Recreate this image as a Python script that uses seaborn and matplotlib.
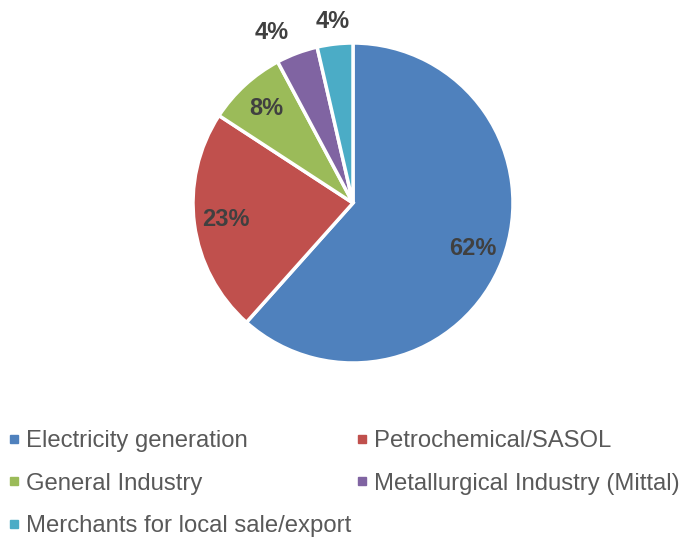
import numpy as np
import seaborn as sns
import matplotlib
matplotlib.use("Agg")
import matplotlib.pyplot as plt
from matplotlib.lines import Line2D

# ================== DATA ==================
categories = [
    "Electricity generation",
    "Petrochemical/SASOL",
    "General Industry",
    "Metallurgical Industry (Mittal)",
    "Merchants for local sale/export",
]
shares = [61.6, 22.6, 8.0, 4.2, 3.6]
colors = ["#4F81BD", "#C0504D", "#9BBB59", "#8064A2", "#4BACC6"]

# ================== STYLE ==================
sns.set_theme(style="white")
plt.rcParams["font.family"] = ["Liberation Sans", "DejaVu Sans"]

W, H = 685, 538
fig = plt.figure(figsize=(W / 100, H / 100), dpi=100)

# pie centre (353, 203) px, radius 160 px
cx, cy, r = 353, 203, 160
ax = fig.add_axes([(cx - r) / W, (H - cy - r) / H, 2 * r / W, 2 * r / H])

wedges, texts, autotexts = ax.pie(
    shares,
    colors=colors,
    startangle=90,
    counterclock=False,
    autopct="%.0f%%",
    pctdistance=0.8,
    wedgeprops=dict(edgecolor="white", linewidth=2.5),
    textprops=dict(fontsize=17, fontweight="bold", color="#404040"),
)
ax.set_xlim(-1, 1)
ax.set_ylim(-1, 1)
ax.set_aspect("equal")

# small slices get their labels outside
for w, t, v in zip(wedges, autotexts, shares):
    if v < 5:
        ang = np.deg2rad((w.theta1 + w.theta2) / 2)
        x, y = 1.14 * np.cos(ang), 1.14 * np.sin(ang)
        t.set_position((x, y))
        if x < -0.3:
            t.set_horizontalalignment("right")

# ================== LEGEND ==================
handles = [
    Line2D([], [], marker="s", linestyle="none", markersize=6,
           markerfacecolor=c, markeredgecolor=c)
    for c in colors
]
order = [0, 2, 4, 1, 3]  # row-wise reading order with 2 columns
leg = fig.legend(
    [handles[i] for i in order],
    [categories[i] for i in order],
    loc="lower left",
    bbox_to_anchor=(-0.004, -0.016),
    ncol=2,
    frameon=False,
    fontsize=17.2,
    handlelength=0.6,
    handletextpad=0.2,
    columnspacing=0.15,
    labelspacing=0.86,
    borderaxespad=0.0,
)
for t in leg.get_texts():
    t.set_color("#595959")

fig.savefig("out.png", dpi=100)
